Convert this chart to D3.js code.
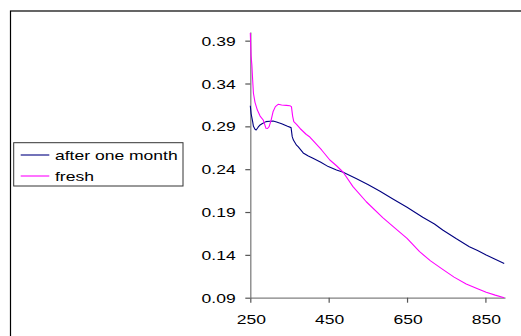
<!DOCTYPE html>
<html>
<head>
<meta charset="utf-8">
<script src="https://cdn.jsdelivr.net/npm/d3@7"></script>
<style>
  body { margin: 0; background: #fff; }
  svg { display: block; }
  text { font-family: "Liberation Sans", Arial, sans-serif; fill: #000; }
</style>
</head>
<body>
<script>
const width = 521;
const height = 336;

// wavelength (nm) and absorbance
const monthWl = [250, 252, 256, 258, 262, 265, 270, 275, 280, 290, 300, 308, 317, 330, 345, 354, 357, 360, 368, 372,
  385, 398, 410, 430, 449, 470, 487, 520, 550, 580, 615, 650, 690, 720, 741, 775, 809, 830, 852, 875, 898];
const monthVal = [0.314, 0.305, 0.2955, 0.290, 0.2866, 0.2857, 0.289, 0.2916, 0.293, 0.2955, 0.296, 0.2962, 0.295, 0.293,
  0.290, 0.2885, 0.278, 0.274, 0.268, 0.2663, 0.259, 0.2554, 0.2527, 0.248, 0.243, 0.239, 0.2364, 0.229, 0.222, 0.2145,
  0.205, 0.1955, 0.1838, 0.176, 0.169, 0.159, 0.1495, 0.145, 0.1398, 0.135, 0.130];

const freshWl = [250, 251, 252, 254, 256, 258, 262, 268, 275, 283, 290, 294, 298, 303, 308, 314, 321, 330, 342, 351,
  355, 358, 361, 368, 377, 393, 402, 415, 432, 453, 470, 487, 512, 546, 588, 620, 650, 682, 710, 741, 770, 801, 830,
  852, 875, 898];
const freshVal = [0.399, 0.385, 0.372, 0.3616, 0.344, 0.3286, 0.318, 0.309, 0.302, 0.2974, 0.2877, 0.2875, 0.2896, 0.297,
  0.307, 0.313, 0.3157, 0.315, 0.3145, 0.314, 0.313, 0.302, 0.2955, 0.2922, 0.2875, 0.2805, 0.2775, 0.271, 0.2624, 0.2507,
  0.244, 0.2364, 0.2196, 0.202, 0.1834, 0.171, 0.1593, 0.1437, 0.133, 0.1231, 0.114, 0.106, 0.1005, 0.0963, 0.093, 0.090];

const seriesNames = ['after one month', 'fresh'];
const seriesColors = ['#000080', '#ff00ff'];

const xTicks = [250, 450, 650, 850];
const yTicks = [0.09, 0.14, 0.19, 0.24, 0.29, 0.34, 0.39];

const stretch = 1.38;

const x = d3.scaleLinear().domain([250, 900]).range([250.3, 505]);
const y = d3.scaleLinear().domain([0.09, 0.40]).range([297.7, 32.1]);

const svg = d3.select('body').append('svg')
  .attr('width', width)
  .attr('height', height);

// outer frame, runs off the right and bottom edges
svg.append('rect')
  .attr('x', 10.5).attr('y', 11)
  .attr('width', 700).attr('height', 500)
  .attr('fill', 'none')
  .attr('stroke', '#000')
  .attr('stroke-width', 1.2);

const xAxis = svg.append('g')
  .attr('transform', `translate(0,${y(0.09)})`)
  .call(d3.axisBottom(x).tickValues(xTicks).tickSize(5).tickSizeOuter(0).tickFormat(d3.format('d')));

const yAxis = svg.append('g')
  .attr('transform', `translate(${x(250)},0)`)
  .call(d3.axisLeft(y).tickValues(yTicks).tickSize(5).tickSizeOuter(0).tickFormat(d3.format('.2f')));

for (const g of [xAxis, yAxis]) {
  g.select('.domain').attr('stroke', '#808080').attr('stroke-width', 1.3);
  g.selectAll('.tick line').attr('stroke', '#555').attr('stroke-width', 1.2);
  g.selectAll('.tick text')
    .attr('font-family', '"Liberation Sans", Arial, sans-serif')
    .attr('font-size', 12.7)
    .attr('fill', '#000');
}

xAxis.selectAll('.tick text')
  .attr('y', null).attr('dy', null)
  .attr('transform', `translate(0.5,26.4) scale(${stretch},1)`);

yAxis.selectAll('.tick text')
  .attr('x', null).attr('dy', null)
  .attr('transform', `translate(-14.6,4.6) scale(${stretch},1)`);

const line = d3.line()
  .x(d => x(d[0]))
  .y(d => y(d[1]));

const series = [
  d3.zip(monthWl, monthVal),
  d3.zip(freshWl, freshVal)
];

series.forEach((data, i) => {
  svg.append('path')
    .datum(data)
    .attr('fill', 'none')
    .attr('stroke', seriesColors[i])
    .attr('stroke-width', 1.1)
    .attr('stroke-linejoin', 'round')
    .attr('d', line);
});

// legend
const legend = svg.append('g');
legend.append('rect')
  .attr('x', 13.7).attr('y', 142.7)
  .attr('width', 169.3).attr('height', 43.3)
  .attr('fill', '#fff')
  .attr('stroke', '#333')
  .attr('stroke-width', 1);

seriesNames.forEach((name, i) => {
  const ly = 155 + i * 21;
  legend.append('line')
    .attr('x1', 20.7).attr('x2', 49.3)
    .attr('y1', ly).attr('y2', ly)
    .attr('stroke', seriesColors[i])
    .attr('stroke-width', 1.1);
  legend.append('text')
    .attr('transform', `translate(55,${ly + 4.5}) scale(${stretch},1)`)
    .attr('font-size', 12.7)
    .text(name);
});
</script>
</body>
</html>
